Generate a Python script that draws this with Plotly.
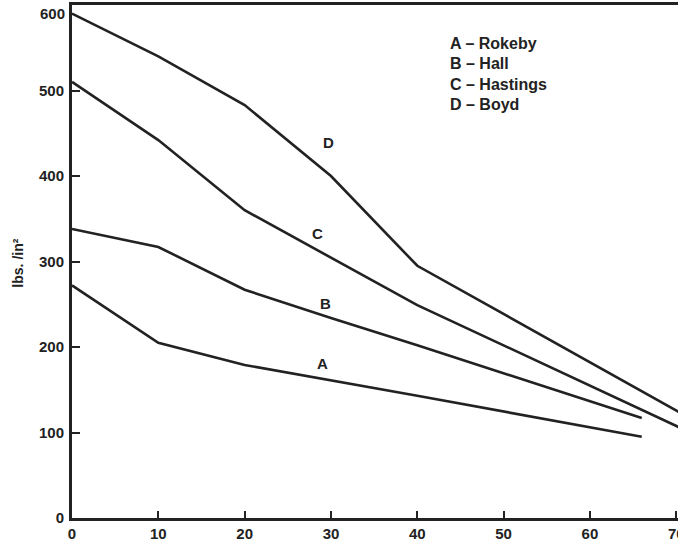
import plotly.graph_objects as go

# Data
a_x = [0, 10, 20, 30, 40, 66]
a_y = [272, 205, 179, 161, 143, 95]
b_x = [0, 10, 20, 30, 40, 66]
b_y = [338, 317, 267, 234, 202, 117]
c_x = [0, 10, 20, 30, 40, 71]
c_y = [510, 442, 360, 305, 249, 103]
d_x = [0, 10, 20, 30, 40, 71]
d_y = [590, 540, 483, 400, 295, 120]

series_names = ["A", "B", "C", "D"]
label_x = [29.0, 29.4, 28.4, 29.7]
label_y = [181, 251, 333, 439]
legend_lines = ["A – Rokeby", "B – Hall", "C – Hastings", "D – Boyd"]

x_ticks = [0, 10, 20, 30, 40, 50, 60, 70]
y_ticks = [0, 100, 200, 300, 400, 500, 600]
y_ticktext = ["0", "100", "200", "300", "400", "500", ""]
top_label = "600"

ink = "#222222"
font_fam = "Liberation Sans, Arial, sans-serif"

W, H = 685, 543
L, R, T, B = 72, 0, 5, 25
PW = W - L - R
PH = H - T - B

fig = go.Figure()
for xs, ys in [(a_x, a_y), (b_x, b_y), (c_x, c_y), (d_x, d_y)]:
    fig.add_trace(go.Scatter(x=xs, y=ys, mode="lines",
                             line=dict(color=ink, width=2.6),
                             showlegend=False, hoverinfo="skip", cliponaxis=True))

for name, lx, ly in zip(series_names, label_x, label_y):
    fig.add_annotation(x=lx, y=ly, text=f"<b>{name}</b>", showarrow=False,
                       font=dict(family=font_fam, size=15, color=ink))

for i, t in enumerate(legend_lines):
    fig.add_annotation(xref="paper", yref="paper", x=(452 - L) / PW,
                       y=(518 - (43 + 20.5 * i)) / PH, text=f"<b>{t}</b>",
                       showarrow=False, xanchor="left", yanchor="middle",
                       font=dict(family=font_fam, size=16, color=ink))

# top y label placed just below the frame, as in the reference
fig.add_annotation(xref="paper", yref="paper", x=-5 / PW, y=(518 - 13) / PH,
                   text=f"<b>{top_label}</b>", showarrow=False,
                   xanchor="right", yanchor="middle",
                   font=dict(family=font_fam, size=15, color=ink))

fig.add_annotation(xref="paper", yref="paper", x=(17 - L) / PW, y=(518 - 263) / PH,
                   text="<b>lbs. /in²</b>", textangle=-90, showarrow=False,
                   xanchor="center", yanchor="middle",
                   font=dict(family=font_fam, size=14, color=ink))

fig.update_layout(
    width=W, height=H, autosize=False,
    margin=dict(l=L, r=R, t=T, b=B),
    paper_bgcolor="white", plot_bgcolor="white",
    xaxis=dict(range=[0, 70.2], tickvals=x_ticks, ticktext=[str(v) for v in x_ticks],
               showgrid=False, zeroline=False, showline=True, linecolor=ink, linewidth=3,
               mirror=True, ticks="inside", ticklen=7, tickwidth=2, tickcolor=ink,
               ticklabeloverflow="allow",
               tickfont=dict(family=font_fam, size=15, color=ink, weight="bold")),
    yaxis=dict(range=[0, 600], tickvals=y_ticks, ticktext=y_ticktext,
               showgrid=False, zeroline=False, showline=True, linecolor=ink, linewidth=3,
               ticks="inside", ticklen=8, tickwidth=2, tickcolor=ink,
               ticklabeloverflow="allow", ticklabelstandoff=2,
               tickfont=dict(family=font_fam, size=15, color=ink, weight="bold")),
)

fig.write_html("out.html", config={"displayModeBar": False, "responsive": False},
               post_script="document.body.style.margin='0px';")
